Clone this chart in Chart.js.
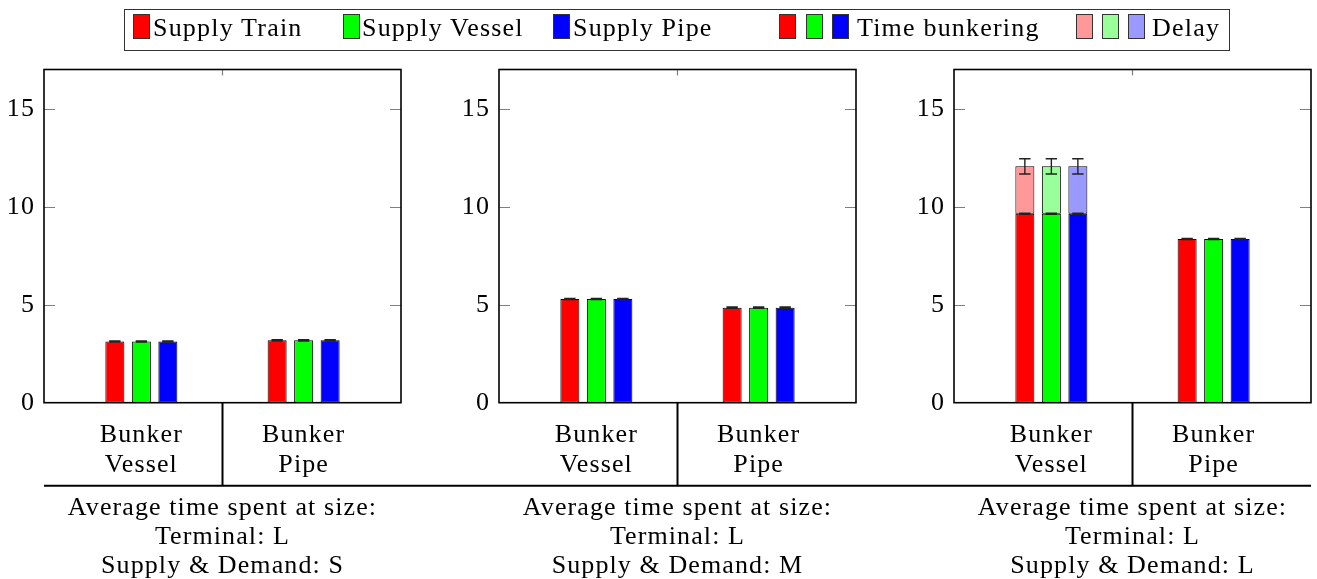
<!DOCTYPE html>
<html>
<head>
<meta charset="utf-8">
<script src="https://cdn.jsdelivr.net/npm/chart.js@4/dist/chart.umd.min.js"></script>
<style>
  html, body { margin: 0; padding: 0; background: #fff; }
  body { width: 1317px; height: 579px; position: relative; overflow: hidden; font-family: "Liberation Serif", "DejaVu Serif", serif; }
  canvas { position: absolute; top: 0; }
  #legend { position: absolute; left: 124px; top: 9px; width: 1104px; height: 40px; border: 1.5px solid #333; z-index: 2; }
  .sq { position: absolute; top: 4px; width: 15px; height: 23px; border: 1px solid #333; }
  .lt { position: absolute; top: 3px; font-size: 26px; line-height: 30px; color: #000; white-space: nowrap; letter-spacing: 1.2px; }
</style>
</head>
<body>
<div id="legend"></div>
<canvas id="c0"></canvas>
<canvas id="c1"></canvas>
<canvas id="c2"></canvas>
<script>
// ---------------- data ----------------
const categories = [['Bunker', 'Vessel'], ['Bunker', 'Pipe']];
const catPos = [0, 1];
const yTicks = [0, 5, 10, 15];
const seriesNames = ['Supply Train', 'Supply Vessel', 'Supply Pipe'];
const legendGroupNames = ['Time bunkering', 'Delay'];
const panelCaptions = [
  ['Average time spent at size:', 'Terminal: L', 'Supply & Demand: S'],
  ['Average time spent at size:', 'Terminal: L', 'Supply & Demand: M'],
  ['Average time spent at size:', 'Terminal: L', 'Supply & Demand: L']
];
// per panel: [Bunker Vessel, Bunker Pipe]
const timeTrain  = [[3.12, 3.18], [5.29, 4.85], [9.64, 8.35]];
const timeVessel = [[3.12, 3.18], [5.29, 4.85], [9.64, 8.35]];
const timePipe   = [[3.12, 3.18], [5.29, 4.85], [9.64, 8.35]];
const delayTrain  = [[0, 0], [0, 0], [2.42, 0]];
const delayVessel = [[0, 0], [0, 0], [2.42, 0]];
const delayPipe   = [[0, 0], [0, 0], [2.42, 0]];
const timeErr  = [[0.03, 0.03], [0.03, 0.03], [0.03, 0.03]];
const delayErr = [[0, 0], [0, 0], [0.39, 0]];

// ---------------- styles ----------------
const FONT = '"Liberation Serif", "DejaVu Serif", serif';
const darkColors = ['#ff0000', '#00ff00', '#0000ff'];
const lightColors = ['#ff9999', '#99ff99', '#9999ff'];
const stacks = ['train', 'vessel', 'pipe'];

// ---------------- legend (HTML) ----------------
(function buildLegend() {
  const lg = document.getElementById('legend');
  const add = (cls, left, extra) => {
    const d = document.createElement('div');
    d.className = cls; d.style.left = left + 'px';
    if (extra) extra(d);
    lg.appendChild(d);
  };
  const sqX = [8, 218, 428];
  const txX = [28, 237, 448];
  seriesNames.forEach((n, i) => {
    add('sq', sqX[i], d => d.style.background = darkColors[i]);
    add('lt', txX[i], d => d.textContent = n);
  });
  [654, 681, 707].forEach((x, i) => add('sq', x, d => d.style.background = darkColors[i]));
  add('lt', 732, d => d.textContent = legendGroupNames[0]);
  [951, 977, 1003].forEach((x, i) => add('sq', x, d => d.style.background = lightColors[i]));
  add('lt', 1027, d => d.textContent = legendGroupNames[1]);
})();

// ---------------- plugins ----------------
const spacing = {
  id: 'spacing',
  beforeDraw(chart) { chart.ctx.letterSpacing = '1.1px'; }
};

const errorBars = {
  id: 'errorBars',
  afterDatasetsDraw(chart, args, opts) {
    const ctx = chart.ctx, ys = chart.scales.y;
    const p = opts.panel;
    ctx.save();
    ctx.strokeStyle = '#222';
    ctx.lineWidth = 1.4;
    for (let s = 0; s < 3; s++) {
      const tMeta = chart.getDatasetMeta(s);
      const tData = chart.data.datasets[s].data;
      const dData = chart.data.datasets[s + 3].data;
      for (let j = 0; j < tData.length; j++) {
        const el = tMeta.data[j];
        const half = el.width * 0.3;
        const draw = (val, err) => {
          const y1 = ys.getPixelForValue(val + err), y2 = ys.getPixelForValue(val - err);
          ctx.beginPath();
          ctx.moveTo(el.x, y1); ctx.lineTo(el.x, y2);
          ctx.moveTo(el.x - half, y1); ctx.lineTo(el.x + half, y1);
          ctx.moveTo(el.x - half, y2); ctx.lineTo(el.x + half, y2);
          ctx.stroke();
        };
        const t = tData[j].y;
        draw(t, timeErr[p][j]);
        const d = dData[j].y;
        if (d > 0) draw(t + d, delayErr[p][j]);
      }
    }
    ctx.restore();
  }
};

const frame = {
  id: 'frame',
  afterDraw(chart, args, opts) {
    const ctx = chart.ctx, a = chart.chartArea;
    const xs = chart.scales.x, ys = chart.scales.y;
    ctx.save();
    // inward tick marks
    ctx.strokeStyle = '#808080';
    ctx.lineWidth = 1.2;
    ctx.beginPath();
    yTicks.forEach(v => {
      if (v === 0) return;
      const y = Math.round(ys.getPixelForValue(v)) + 0.5;
      ctx.moveTo(a.left, y); ctx.lineTo(a.left + 11, y);
      ctx.moveTo(a.right, y); ctx.lineTo(a.right - 11, y);
    });
    const mid = xs.getPixelForValue((catPos[0] + catPos[1]) / 2);
    ctx.moveTo(mid, a.top); ctx.lineTo(mid, a.top + 6);
    ctx.stroke();
    // frame
    ctx.strokeStyle = '#000';
    ctx.lineWidth = 1.6;
    ctx.strokeRect(a.left, a.top, a.right - a.left, a.bottom - a.top);
    // category divider and group line
    const lineY = a.bottom + 83;
    ctx.lineWidth = 2;
    ctx.beginPath();
    ctx.moveTo(mid, a.bottom); ctx.lineTo(mid, lineY);
    ctx.stroke();
    ctx.beginPath();
    ctx.moveTo(opts.panel === 0 ? a.left : 0, lineY);
    ctx.lineTo(opts.panel === 2 ? a.right : chart.width, lineY);
    ctx.stroke();
    ctx.restore();
  }
};

// ---------------- charts ----------------
const canvasLeft = [0, 455, 910];
const canvasWidth = [455, 455, 407];
const allTime = [timeTrain, timeVessel, timePipe];
const allDelay = [delayTrain, delayVessel, delayPipe];

for (let p = 0; p < 3; p++) {
  const cv = document.getElementById('c' + p);
  cv.width = canvasWidth[p]; cv.height = 579;
  cv.style.left = canvasLeft[p] + 'px';
  cv.style.width = canvasWidth[p] + 'px'; cv.style.height = '579px';

  const datasets = [];
  for (let s = 0; s < 3; s++) {
    datasets.push({
      label: seriesNames[s] + ' time',
      data: catPos.map((x, j) => ({ x, y: allTime[s][p][j] })),
      backgroundColor: darkColors[s], borderColor: '#000', borderWidth: 1,
      borderSkipped: false, stack: stacks[s]
    });
  }
  for (let s = 0; s < 3; s++) {
    datasets.push({
      label: seriesNames[s] + ' delay',
      data: catPos.map((x, j) => ({ x, y: allDelay[s][p][j] })),
      backgroundColor: lightColors[s], borderColor: '#000', borderWidth: 1,
      borderSkipped: false, stack: stacks[s]
    });
  }

  new Chart(cv, {
    type: 'bar',
    data: { datasets },
    plugins: [spacing, errorBars, frame],
    options: {
      responsive: false,
      animation: false,
      devicePixelRatio: 1,
      categoryPercentage: 0.49,
      barPercentage: 0.717,
      layout: { padding: { top: 69.5, left: 0, bottom: 0, right: canvasWidth[p] - 44 - 357 } },
      plugins: {
        legend: { display: false },
        tooltip: { enabled: false },
        errorBars: { panel: p },
        frame: { panel: p }
      },
      scales: {
        x: {
          type: 'linear',
          min: -0.6, max: 1.6,
          offset: false,
          grid: { display: false, drawTicks: false, offset: false },
          border: { display: false },
          afterBuildTicks: sc => { sc.ticks = catPos.map(v => ({ value: v })); },
          afterFit: sc => { sc.height = 176.3; },
          ticks: {
            autoSkip: false, maxRotation: 0, minRotation: 0,
            padding: 17,
            color: '#000',
            font: { family: FONT, size: 26, lineHeight: '30px' },
            callback: (v, i) => categories[i]
          },
          title: {
            display: true,
            text: panelCaptions[p],
            color: '#000',
            font: { family: FONT, size: 26, lineHeight: '29px' },
            padding: { top: 0, bottom: -1.7 }
          }
        },
        y: {
          type: 'linear',
          min: 0, max: 17,
          stacked: true,
          grid: { display: false, drawTicks: false },
          border: { display: false },
          afterBuildTicks: sc => { sc.ticks = yTicks.map(v => ({ value: v })); },
          afterFit: sc => { sc.width = 44; },
          ticks: {
            padding: 9,
            color: '#000',
            font: { family: FONT, size: 26 }
          }
        }
      }
    }
  });
}
</script>
</body>
</html>
